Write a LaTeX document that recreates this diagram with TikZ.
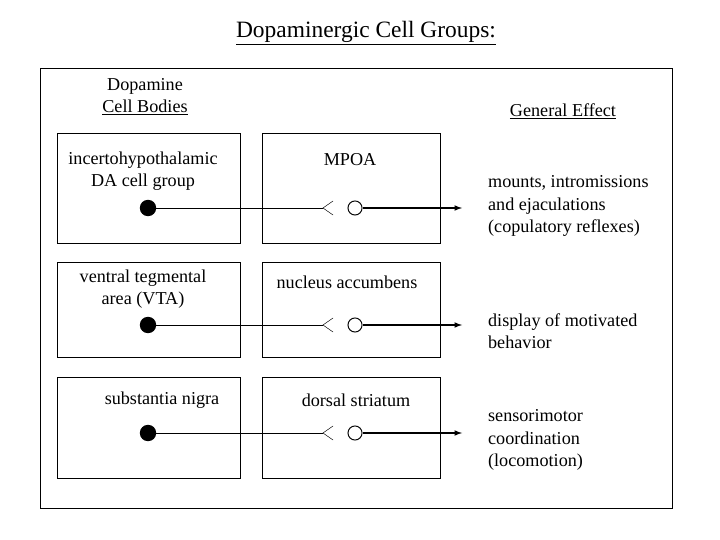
\documentclass[tikz,border=0pt]{standalone}
\usepackage{fontspec}
\setmainfont{Liberation Serif}
\begin{document}
\begin{tikzpicture}[x=0.03cm, y=-0.03cm,
    lbl/.style={align=center, font=\fontsize{15.5}{19}\selectfont},
    eff/.style={align=left, anchor=west, font=\fontsize{15.5}{19}\selectfont},
    soma/.style={circle, fill, inner sep=0pt, minimum size=14pt},
    term/.style={circle, draw, thick, inner sep=0pt, minimum size=12pt}]
  \useasboundingbox (0,0) rectangle (720,540);
  \node[lbl, font=\fontsize{20}{24}\selectfont] (title) at (366,33) {\underline{Dopaminergic Cell Groups:}};
  \draw[thick] (40,68) rectangle (672,508);
  \node[lbl] (head) at (145,97) {Dopamine\\\underline{Cell Bodies}};
  \node[lbl] (gen) at (563,111) {\underline{General Effect}};
  % boxes
  \draw[thick] (57,133) rectangle (240,243);
  \draw[thick] (262,133) rectangle (440,243);
  \draw[thick] (57,262) rectangle (240,357);
  \draw[thick] (262,262) rectangle (440,357);
  \draw[thick] (57,377) rectangle (240,478);
  \draw[thick] (262,377) rectangle (440,478);
  \node[lbl] (r1a) at (143,171) {incertohypothalamic\\DA cell group};
  \node[lbl] (r1b) at (350,160) {MPOA};
  \node[lbl] (r2a) at (143,289) {ventral tegmental\\area (VTA)};
  \node[lbl] (r2b) at (347,282) {nucleus accumbens};
  \node[lbl] (r3a) at (162,400) {substantia nigra};
  \node[lbl] (r3b) at (356,400) {dorsal striatum};
  \node[eff] (e1) at (484,206) {mounts, intromissions\\and ejaculations\\(copulatory reflexes)};
  \node[eff] (e2) at (484,331) {display of motivated\\behavior};
  \node[eff] (e3) at (484,440) {sensorimotor\\coordination\\(locomotion)};
  \foreach \i/\y in {1/208,2/325,3/433} {
    \node[soma] (s\i) at (148,\y) {};
    \coordinate (v\i) at (323,\y);
    \node[term] (t\i) at (355,\y) {};
    \coordinate (a\i) at (462,\y);
    \draw (s\i) -- (v\i);
    \draw (v\i) ++(10,-7) -- (v\i) -- ++(10,7);
    \draw[very thick, -latex] (t\i) -- (a\i);
  }
\end{tikzpicture}
\end{document}
